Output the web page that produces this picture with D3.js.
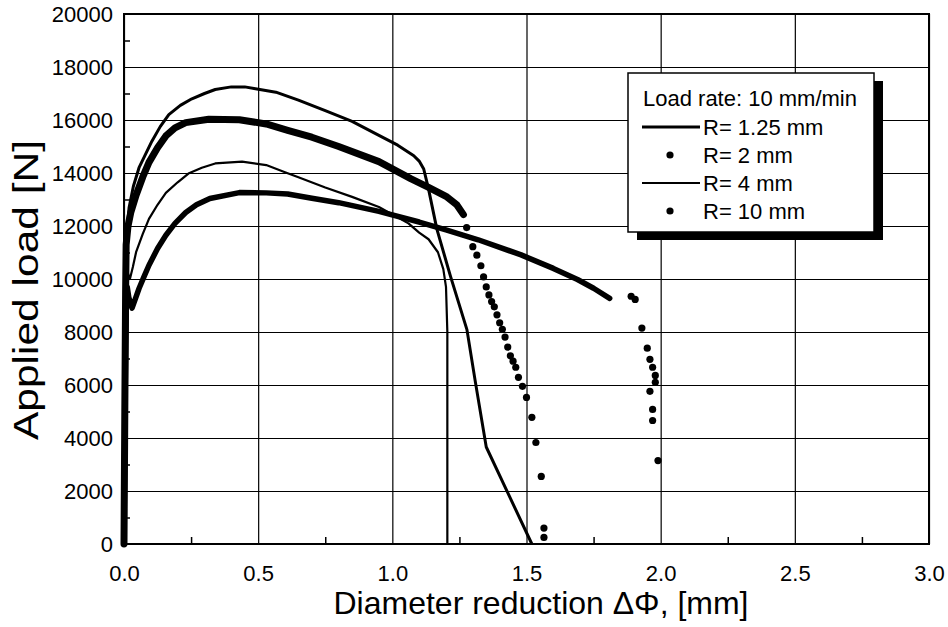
<!DOCTYPE html>
<html>
<head>
<meta charset="utf-8">
<script src="https://cdn.jsdelivr.net/npm/d3@7"></script>
<style>
    body { margin: 0; background: #fff; }
    text { font-family: "Liberation Sans", Arial, Helvetica, sans-serif; fill: #000; }
</style>
</head>
<body>
<div id="chart"></div>
<script>
// tick values
var xTicks = [0, 0.5, 1.0, 1.5, 2.0, 2.5, 3.0];
var xMinorTicks = [0.25, 0.75, 1.25, 1.75, 2.25, 2.75];
var yTicks = [0, 2000, 4000, 6000, 8000, 10000, 12000, 14000, 16000, 18000, 20000];
var yMinorTicks = [1000, 3000, 5000, 7000, 9000, 11000, 13000, 15000, 17000, 19000];

// R = 1.25 mm, solid line [diameter reduction, load]
var r125Line = [[0, 0], [0.003, 6000], [0.007, 10500], [0.012, 11900], [0.019, 12700], [0.035, 13500],
    [0.056, 14200], [0.08, 14700], [0.104, 15200], [0.135, 15750], [0.167, 16200], [0.21, 16550],
    [0.253, 16800], [0.3, 17000], [0.34, 17150], [0.4, 17250], [0.45, 17250], [0.49, 17180],
    [0.566, 17050], [0.65, 16750], [0.75, 16350], [0.85, 15950], [0.95, 15420], [1.02, 15050],
    [1.08, 14650], [1.1, 14450], [1.117, 14150], [1.135, 13390], [1.166, 11880], [1.216, 10130],
    [1.278, 8090], [1.31, 6080], [1.35, 3660], [1.52, 0]];

// R = 2 mm, dense dotted part (reads as a band) and the scattered drop
var r2Band = [[0, 0], [0.003, 5000], [0.006, 9500], [0.008, 11300], [0.015, 12000], [0.025, 12500],
    [0.045, 13160], [0.07, 13850], [0.093, 14400], [0.125, 14950], [0.156, 15400], [0.19, 15700],
    [0.23, 15900], [0.316, 16030], [0.43, 16010], [0.53, 15850], [0.61, 15610], [0.7, 15350],
    [0.8, 15000], [0.95, 14430], [1.07, 13780], [1.135, 13460], [1.2, 13120], [1.24, 12800],
    [1.265, 12430]];
var r2Dots = [[1.277, 11940], [1.30, 11220], [1.315, 10900], [1.33, 10500], [1.34, 10080],
    [1.35, 9700], [1.36, 9400], [1.37, 9150], [1.38, 8950], [1.39, 8650], [1.40, 8350],
    [1.41, 8100], [1.42, 7810], [1.43, 7430], [1.44, 7100], [1.45, 6900], [1.46, 6670],
    [1.47, 6290], [1.485, 5950], [1.50, 5530], [1.52, 4780], [1.535, 3830], [1.555, 2550],
    [1.565, 600], [1.565, 250]];

// R = 4 mm, thin line
var r4Line = [[0, 0], [0.004, 6000], [0.007, 9500], [0.01, 10600], [0.015, 10200], [0.022, 10000],
    [0.033, 10450], [0.045, 11010], [0.07, 11700], [0.093, 12270], [0.125, 12800], [0.156, 13250],
    [0.2, 13650], [0.24, 13980], [0.29, 14200], [0.34, 14360], [0.44, 14430], [0.53, 14300],
    [0.6, 14030], [0.65, 13840], [0.75, 13450], [0.85, 13100], [0.95, 12720], [1.06, 12100],
    [1.1, 11750], [1.135, 11500], [1.17, 11010], [1.19, 10370], [1.2, 9700], [1.205, 8000],
    [1.205, 0]];

// R = 10 mm, dense dotted band and scattered tail
var r10Band = [[0, 0], [0.003, 4000], [0.006, 7500], [0.009, 9200], [0.012, 9700], [0.018, 9300],
    [0.03, 8900], [0.056, 9640], [0.075, 10100], [0.093, 10520], [0.125, 11150], [0.156, 11650],
    [0.19, 12100], [0.23, 12510], [0.27, 12800], [0.32, 13040], [0.43, 13260], [0.53, 13250],
    [0.61, 13210], [0.7, 13050], [0.8, 12880], [0.95, 12550], [1.1, 12150], [1.2, 11850],
    [1.32, 11480], [1.48, 10910], [1.6, 10400], [1.69, 9980], [1.75, 9650], [1.81, 9270]];
var r10Dots = [[1.89, 9350], [1.905, 9230], [1.93, 8150], [1.95, 7390], [1.96, 6970],
    [1.97, 6670], [1.98, 6360], [1.98, 6100], [1.96, 5760], [1.97, 5080], [1.97, 4660],
    [1.99, 3150]];

var legendTitle = "Load rate: 10 mm/min";
var legendLabels = ["R= 1.25 mm", "R= 2 mm", "R= 4 mm", "R= 10 mm"];
var legendKinds = ["thick", "dot", "thin", "dot"];

function draw() {
    var margin = { top: 14, right: 19, bottom: 83, left: 124 };
    var width = 948 - margin.left - margin.right;
    var height = 627 - margin.top - margin.bottom;

    var x = d3.scaleLinear().domain([0, 3]).range([0, width]);
    var y = d3.scaleLinear().domain([0, 20000]).range([height, 0]);

    var svg = d3.select("#chart").append("svg")
        .attr("width", 948)
        .attr("height", 627)
        .append("g")
        .attr("transform", "translate(" + margin.left + "," + margin.top + ")");

    // y axis with grid
    var yAxis = svg.append("g")
        .call(d3.axisLeft(y)
            .tickValues(yTicks)
            .tickSizeInner(-width)
            .tickSizeOuter(0)
            .tickPadding(11)
            .tickFormat(d3.format("d")));
    yAxis.select(".domain").remove();
    yAxis.selectAll("line").attr("stroke", "#000").attr("stroke-width", 1.2);
    yAxis.selectAll("text").style("font-size", "22px");

    // x axis with grid
    var xAxis = svg.append("g")
        .attr("transform", "translate(0," + height + ")")
        .call(d3.axisBottom(x)
            .tickValues(xTicks)
            .tickSizeInner(-height)
            .tickSizeOuter(0)
            .tickPadding(21)
            .tickFormat(d3.format(".1f")));
    xAxis.select(".domain").remove();
    xAxis.selectAll("line").attr("stroke", "#000").attr("stroke-width", 1.2);
    xAxis.selectAll("text").style("font-size", "22px");

    // minor ticks
    var yMinor = svg.append("g")
        .call(d3.axisLeft(y).tickValues(yMinorTicks).tickSizeInner(-6).tickSizeOuter(0).tickFormat(""));
    yMinor.select(".domain").remove();
    yMinor.selectAll("line").attr("stroke", "#000").attr("stroke-width", 1.5);

    var xMinor = svg.append("g")
        .attr("transform", "translate(0," + height + ")")
        .call(d3.axisBottom(x).tickValues(xMinorTicks).tickSizeInner(-7).tickSizeOuter(0).tickFormat(""));
    xMinor.select(".domain").remove();
    xMinor.selectAll("line").attr("stroke", "#000").attr("stroke-width", 1.5);

    var line = d3.line()
        .x(function (d) { return x(d[0]); })
        .y(function (d) { return y(d[1]); });

    // curves
    svg.append("path").datum(r10Band)
        .attr("d", line).attr("fill", "none").attr("stroke", "#000")
        .attr("stroke-width", 5.5).attr("stroke-linejoin", "round").attr("stroke-linecap", "round");
    svg.append("path").datum(r4Line)
        .attr("d", line).attr("fill", "none").attr("stroke", "#000")
        .attr("stroke-width", 2.2).attr("stroke-linejoin", "round");
    svg.append("path").datum(r2Band)
        .attr("d", line).attr("fill", "none").attr("stroke", "#000")
        .attr("stroke-width", 7).attr("stroke-linejoin", "round").attr("stroke-linecap", "round");
    svg.append("path").datum(r125Line)
        .attr("d", line).attr("fill", "none").attr("stroke", "#000")
        .attr("stroke-width", 3).attr("stroke-linejoin", "round");

    svg.selectAll(".dot2")
        .data(r2Dots)
        .enter()
        .append("circle")
        .attr("class", "dot2")
        .attr("cx", function (d) { return x(d[0]); })
        .attr("cy", function (d) { return y(d[1]); })
        .attr("r", 3.6);

    svg.selectAll(".dot10")
        .data(r10Dots)
        .enter()
        .append("circle")
        .attr("class", "dot10")
        .attr("cx", function (d) { return x(d[0]); })
        .attr("cy", function (d) { return y(d[1]); })
        .attr("r", 3.6);

    // frame
    svg.append("rect")
        .attr("width", width)
        .attr("height", height)
        .attr("fill", "none")
        .attr("stroke", "#000")
        .attr("stroke-width", 2);

    // axis titles
    svg.append("text")
        .attr("x", 417)
        .attr("y", height + 70)
        .style("text-anchor", "middle")
        .style("font-size", "32px")
        .text("Diameter reduction \u0394\u03A6, [mm]");

    svg.append("text")
        .attr("transform", "rotate(-90)")
        .attr("x", -(276))
        .attr("y", -margin.left + 38)
        .style("text-anchor", "middle")
        .style("font-size", "35px")
        .attr("textLength", 300)
        .attr("lengthAdjust", "spacingAndGlyphs")
        .text("Applied load [N]");

    // legend with drop shadow
    var lg = svg.append("g").attr("transform", "translate(" + (628 - margin.left) + "," + (73 - margin.top) + ")");
    lg.append("rect").attr("x", 9).attr("y", 8).attr("width", 246).attr("height", 159).attr("fill", "#000");
    lg.append("rect").attr("width", 246).attr("height", 159).attr("fill", "#fff")
        .attr("stroke", "#000").attr("stroke-width", 1.5);
    lg.append("text").attr("x", 15).attr("y", 25).attr("dy", "0.35em")
        .style("font-size", "22px").text(legendTitle);

    var rows = lg.selectAll(".row")
        .data(legendLabels)
        .enter()
        .append("g")
        .attr("class", "row")
        .attr("transform", function (d, i) { return "translate(0," + (54 + i * 28) + ")"; });

    rows.append("text").attr("x", 75).attr("dy", "0.35em").style("font-size", "22px")
        .text(function (d) { return d; });

    rows.each(function (d, i) {
        var g = d3.select(this);
        if (legendKinds[i] === "dot") {
            g.append("circle").attr("cx", 42).attr("cy", 0).attr("r", 3.6);
        } else {
            g.append("line").attr("x1", 14).attr("x2", 72).attr("y1", 0).attr("y2", 0)
                .attr("stroke", "#000").attr("stroke-width", legendKinds[i] === "thick" ? 3.2 : 2.2);
        }
    });
}

draw();
</script>
</body>
</html>
